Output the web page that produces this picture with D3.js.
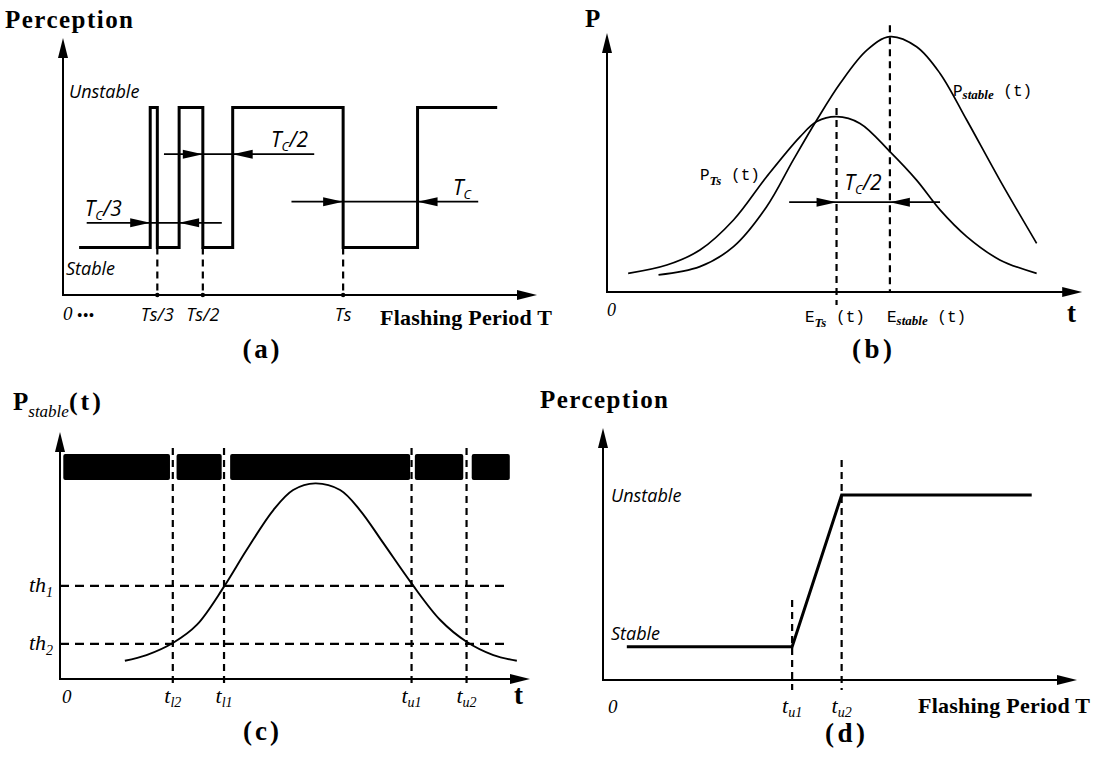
<!DOCTYPE html>
<html lang="en">
<head>
<meta charset="UTF-8">
<script src="https://d3js.org/d3.v7.min.js"></script>
<title>Perception of flashing period</title>
<style>
    body { margin: 0; background: #fff; }
    text { fill: #000; white-space: pre; }
    .bs { font-family: "Liberation Serif", serif; font-weight: bold; }
    .is { font-family: "Open Sans", sans-serif; font-style: italic; }
    .it { font-family: "Liberation Serif", serif; font-style: italic; }
    .bit { font-family: "Liberation Serif", serif; font-style: italic; font-weight: bold; }
    .mono { font-family: "Liberation Mono", monospace; }
    .axis { stroke: #000; stroke-width: 2; }
    .dash { stroke: #000; stroke-width: 2.2; stroke-dasharray: 7,5; }
    .dim { stroke: #000; stroke-width: 1.8; }
    .curve { fill: none; stroke: #000; stroke-width: 1.7; }
    .thick { fill: none; stroke: #000; stroke-width: 3; }
</style>
</head>
<body>
<svg id="fig" width="1104" height="761"></svg>
<script>
// ---------- data (x and y in percent of each axis) ----------
// (a) perception vs flashing period
const levelA = [18.5, 73.0];                 // Stable, Unstable
const stepsA = [[3.4,0],[18.4,1],[19.9,0],[24.5,1],[29.5,0],[35.8,1],[59.1,0],[74.8,1],[91.6,1]];
const ticksA = ["Ts/3", "Ts/2", "Ts"];
const tickValsA = [19.9, 29.5, 59.1];
const spanSuffixA = ["/3", "/2", ""];
const spanYA = [28.1, 54.8, 36.3];
const spanLineA = [[5.0, 33.5], [21.3, 53.0], [48.2, 87.6]];
const spanTipsA = [[18.4, 24.5], [29.5, 35.8], [59.1, 74.8]];
const spanLabelXA = [4.6, 43.9, 82.3];

// (b) two bell curves
const curveTsB = [[4.6,7.2],[13.0,10.4],[20.2,16.2],[27.5,27.8],[34.7,44.5],[42.0,60.0],[45.6,65.8],
    [49.9,67.7],[55.0,65.1],[61.5,54.2],[67.3,43.2],[72.4,31.7],[78.2,21.4],[85.4,12.4],[93.4,7.2]];
const curveStableB = [[11.2,6.6],[20.2,9.8],[27.5,17.5],[34.7,32.9],[40.5,51.0],[45.6,66.4],[50.7,80.6],
    [56.5,93.4],[61.5,98.6],[67.3,94.7],[72.4,84.4],[78.2,66.4],[85.4,43.2],[93.4,18.8]];
const meansB = [49.9, 61.5];
const meanTopB = [71.0, 103.0];
const meanBottomB = [-5, 0];
const meanSubB = ["Ts", "stable"];
const spanB = { y: 34.7, from: 39.6, to: 72.4 };

// (c) thresholds on P_stable(t)
const barsC = [[0.7,23.4],[24.8,34.4],[36.2,74.5],[75.5,85.8],[87.6,95.7]];
const barBandC = [80.6, 91.1];
const thresholdsC = [37.7, 14.2];
const thSubC = ["1", "2"];
const crossC = [24.0, 34.9, 74.8, 86.5];
const crossSubC = ["l2", "l1", "u1", "u2"];
const curveC = [[13.8,7.4],[18.4,9.7],[24.1,14.7],[29.1,21.9],[34.9,37.4],[39.7,52.2],[45.4,68.4],
    [49.6,76.5],[54.3,79.2],[59.6,76.5],[63.8,68.4],[68.8,55.0],[74.8,38.7],[80.9,23.9],[86.5,15.1],
    [92.2,9.7],[97.2,7.4]];

// (d) resulting perception
const levelD = [13.2, 73.4];
const rampD = [[5.1,0],[40.5,0],[51.1,1],[91.8,1]];
const crossD = [40.5, 51.1];
const crossTopD = [31.7, 87.3];
const crossSubD = ["u1", "u2"];

// ---------- helpers ----------
const svg = d3.select("#fig");

const scales = (xr, yr) => ({
    x: d3.scaleLinear().domain([0, 100]).range(xr),
    y: d3.scaleLinear().domain([0, 100]).range(yr)
});

function head(g, x, y, dir, len, hw) {
    const p = d3.path();
    p.moveTo(x, y);
    if (dir === "right") { p.lineTo(x - len, y - hw); p.lineTo(x - len, y + hw); }
    if (dir === "left")  { p.lineTo(x + len, y - hw); p.lineTo(x + len, y + hw); }
    if (dir === "up")    { p.lineTo(x - hw, y + len); p.lineTo(x + hw, y + len); }
    p.closePath();
    g.append("path").attr("d", p.toString()).attr("fill", "#000");
}

function axes(g, s, xMax, yMax) {
    const x0 = s.x(0), y0 = s.y(0);
    g.append("line").attr("class", "axis").attr("x1", x0 - 1).attr("y1", y0)
        .attr("x2", s.x(xMax) - 10).attr("y2", y0);
    g.append("line").attr("class", "axis").attr("x1", x0).attr("y1", y0 + 1)
        .attr("x2", x0).attr("y2", s.y(yMax) + 10);
    head(g, s.x(xMax), y0, "right", 20, 5);
    head(g, x0, s.y(yMax), "up", 20, 5);
}

function vdash(g, s, x, top, bottom) {
    g.append("line").attr("class", "dash")
        .attr("x1", s.x(x)).attr("x2", s.x(x))
        .attr("y1", s.y(top)).attr("y2", s.y(bottom));
}

function span(g, s, y, from, to, tipL, tipR) {
    g.append("line").attr("class", "dim")
        .attr("x1", s.x(from)).attr("x2", s.x(to))
        .attr("y1", s.y(y)).attr("y2", s.y(y));
    head(g, s.x(tipL), s.y(y), "right", 20, 4.5);
    head(g, s.x(tipR), s.y(y), "left", 20, 4.5);
}

// text made of parts, some of them lowered as subscripts
function rich(g, x, y, parts, anchor) {
    const t = g.append("text").attr("x", x).attr("y", y).attr("text-anchor", anchor || "start");
    let cur = 0;
    parts.forEach(p => {
        const off = p.sub ? (p.off || 5) : 0;
        const ts = t.append("tspan").attr("dy", off - cur).attr("class", p.c)
            .style("font-size", p.s + "px").text(p.t);
        if (p.ls) ts.style("letter-spacing", p.ls + "px");
        cur = off;
    });
    return t;
}

const smooth = s => d3.line().x(d => s.x(d[0])).y(d => s.y(d[1])).curve(d3.curveCatmullRom.alpha(0.5));

// ---------- (a) ----------
{
    const g = svg.append("g");
    const s = scales([63, 537], [295, 38]);
    axes(g, s, 100, 100);

    rich(g, 5, 28, [{ t: "Perception", c: "bs", s: 25 }]).attr("textLength", 128);
    rich(g, s.x(0) + 6, s.y(levelA[1]) - 9, [{ t: "Unstable", c: "is", s: 18 }]);
    rich(g, s.x(0) + 3, s.y(levelA[0]) + 28, [{ t: "Stable", c: "is", s: 18 }]);

    tickValsA.forEach(v => vdash(g, s, v, levelA[0], 0));
    tickValsA.forEach(v => g.append("circle").attr("cx", s.x(v)).attr("cy", s.y(0)).attr("r", 2.2));

    g.append("path").attr("class", "thick")
        .attr("d", d3.line().x(d => s.x(d[0])).y(d => s.y(levelA[d[1]])).curve(d3.curveStepAfter)(stepsA));

    spanYA.forEach((y, i) => {
        span(g, s, y, spanLineA[i][0], spanLineA[i][1], spanTipsA[i][0], spanTipsA[i][1]);
        rich(g, s.x(spanLabelXA[i]), s.y(y) - 7, [
            { t: "T", c: "is", s: 21 }, { t: "C", c: "is", s: 13, sub: true, off: 4 },
            { t: spanSuffixA[i], c: "is", s: 21 }
        ]);
    });

    rich(g, s.x(0), s.y(0) + 25, [{ t: "0 ", c: "it", s: 19 }, { t: "•••", c: "bs", s: 14, ls: 1 }]);
    ticksA.forEach((t, i) => rich(g, s.x(tickValsA[i]), s.y(0) + 26, [{ t: t, c: "is", s: 18 }], "middle"));
    rich(g, 380, s.y(0) + 30, [{ t: "Flashing Period T", c: "bs", s: 22 }]).attr("textLength", 172);
    rich(g, 261, 358, [{ t: "(a)", c: "bs", s: 27 }], "middle").attr("textLength", 37);
}

// ---------- (b) ----------
{
    const g = svg.append("g");
    const s = scales([607, 1067], [292, 33]);
    axes(g, s, 103.3, 100);

    rich(g, 585, 27, [{ t: "P", c: "bs", s: 25 }]);
    rich(g, s.x(0), s.y(0) + 24, [{ t: "0", c: "it", s: 18 }]);
    rich(g, 1067, s.y(0) + 30, [{ t: "t", c: "bs", s: 27 }]);

    meansB.forEach((m, i) => vdash(g, s, m, meanTopB[i], meanBottomB[i]));
    g.append("path").attr("class", "curve").attr("d", smooth(s)(curveTsB));
    g.append("path").attr("class", "curve").attr("d", smooth(s)(curveStableB));

    span(g, s, spanB.y, spanB.from, spanB.to, meansB[0], meansB[1]);
    rich(g, s.x(meansB[0]) + 8, s.y(spanB.y) - 12, [
        { t: "T", c: "is", s: 21 }, { t: "C", c: "is", s: 13, sub: true, off: 4 }, { t: "/2", c: "is", s: 21 }
    ]);

    rich(g, 700, 180, [
        { t: "P", c: "mono", s: 16 }, { t: "Ts", c: "bit", s: 13, sub: true, off: 5 },
        { t: " (t)", c: "mono", s: 16 }
    ]);
    rich(g, 953, 96, [
        { t: "P", c: "mono", s: 16 }, { t: "stable", c: "bit", s: 13, sub: true, off: 3 },
        { t: " (t)", c: "mono", s: 16 }
    ]);
    rich(g, 805, s.y(0) + 30, [
        { t: "E", c: "mono", s: 16 }, { t: meanSubB[0], c: "bit", s: 13, sub: true, off: 5 },
        { t: " (t)", c: "mono", s: 16 }
    ]);
    rich(g, 887, s.y(0) + 30, [
        { t: "E", c: "mono", s: 16 }, { t: meanSubB[1], c: "bit", s: 13, sub: true, off: 3 },
        { t: " (t)", c: "mono", s: 16 }
    ]);
    rich(g, 872, 358, [{ t: "(b)", c: "bs", s: 27 }], "middle").attr("textLength", 40);
}

// ---------- (c) ----------
{
    const g = svg.append("g");
    const s = scales([60, 530], [679, 432]);
    axes(g, s, 100, 100);

    rich(g, 13, 410, [
        { t: "P", c: "bs", s: 25 }, { t: "stable", c: "it", s: 17, sub: true, off: 7 },
        { t: "(t)", c: "bs", s: 26, ls: 3 }
    ]);

    g.selectAll("rect.bar").data(barsC).join("rect").attr("class", "bar")
        .attr("x", d => s.x(d[0])).attr("width", d => s.x(d[1]) - s.x(d[0]))
        .attr("y", s.y(barBandC[1])).attr("height", s.y(barBandC[0]) - s.y(barBandC[1]))
        .attr("rx", 2).attr("fill", "#000");

    thresholdsC.forEach((th, i) => {
        g.append("line").attr("class", "dash").style("stroke-dasharray", "9,6")
            .attr("x1", s.x(0)).attr("x2", s.x(95.0)).attr("y1", s.y(th)).attr("y2", s.y(th));
        rich(g, 53, s.y(th) + 6, [
            { t: "th", c: "it", s: 22 }, { t: thSubC[i], c: "it", s: 14, sub: true, off: 5 }
        ], "end");
    });
    crossC.forEach(c => vdash(g, s, c, 93.5, -3.6));
    g.append("path").attr("class", "curve").style("stroke-width", 1.9).attr("d", smooth(s)(curveC));

    rich(g, s.x(0) + 2, s.y(0) + 24, [{ t: "0", c: "it", s: 19 }]);
    crossC.forEach((c, i) => rich(g, s.x(c), s.y(0) + 24, [
        { t: "t", c: "it", s: 22 }, { t: crossSubC[i], c: "it", s: 14, sub: true, off: 4 }
    ], "middle"));
    rich(g, 514, s.y(0) + 25, [{ t: "t", c: "bs", s: 27 }]);
    rich(g, 261, 740, [{ t: "(c)", c: "bs", s: 27 }], "middle").attr("textLength", 36);
}

// ---------- (d) ----------
{
    const g = svg.append("g");
    const s = scales([603, 1070], [680, 428]);
    axes(g, s, 101.5, 100);

    rich(g, 668, 408, [{ t: "Perception", c: "bs", s: 25 }], "end").attr("textLength", 128);
    rich(g, s.x(0) + 8, s.y(levelD[1]) + 7, [{ t: "Unstable", c: "is", s: 18 }]);
    rich(g, s.x(0) + 8, s.y(levelD[0]) - 7, [{ t: "Stable", c: "is", s: 18 }]);

    crossD.forEach((c, i) => vdash(g, s, c, crossTopD[i], -4));
    g.append("path").attr("class", "thick")
        .attr("d", d3.line().x(d => s.x(d[0])).y(d => s.y(levelD[d[1]]))(rampD));

    rich(g, s.x(0) + 5, s.y(0) + 33, [{ t: "0", c: "it", s: 19 }]);
    crossD.forEach((c, i) => rich(g, s.x(c), s.y(0) + 33, [
        { t: "t", c: "it", s: 22 }, { t: crossSubD[i], c: "it", s: 14, sub: true, off: 4 }
    ], "middle"));
    rich(g, 1090, s.y(0) + 33, [{ t: "Flashing Period T", c: "bs", s: 22 }], "end").attr("textLength", 172);
    rich(g, 845, 742, [{ t: "(d)", c: "bs", s: 27 }], "middle").attr("textLength", 40);
}
</script>
</body>
</html>
